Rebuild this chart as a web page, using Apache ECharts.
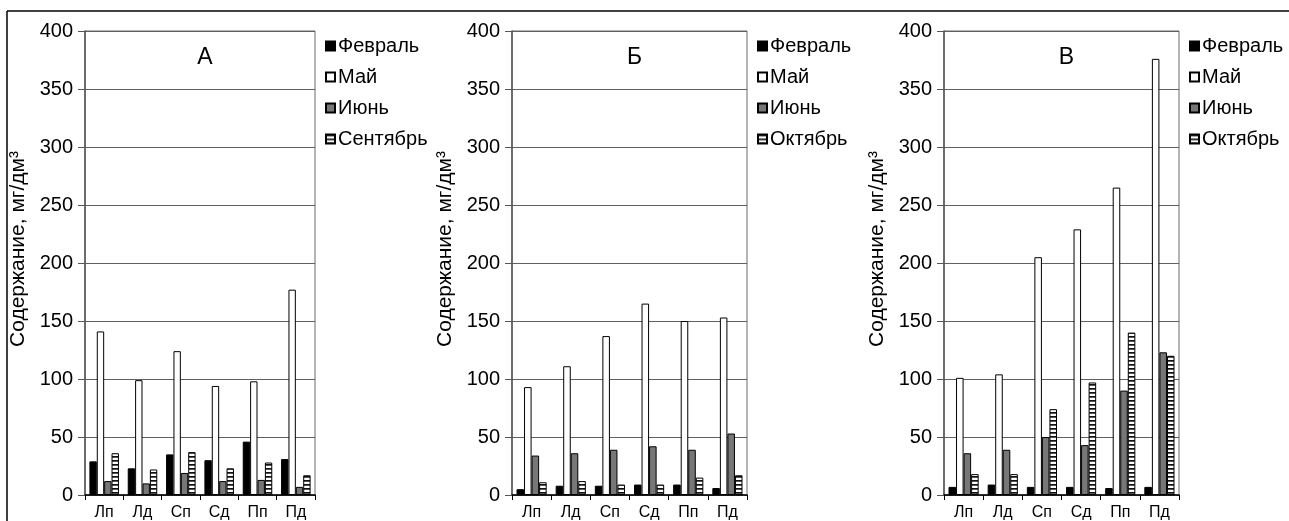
<!DOCTYPE html>
<html>
<head>
<meta charset="utf-8">
<script src="https://cdn.jsdelivr.net/npm/echarts@6/dist/echarts.min.js"></script>
<style>
html,body{margin:0;padding:0;background:#fff;}
#chart{width:1289px;height:521px;}
</style>
</head>
<body>
<div id="chart"></div>
<script>
// ---- data ----
var categories = ['Лп', 'Лд', 'Сп', 'Сд', 'Пп', 'Пд'];
var yTicks = [0, 50, 100, 150, 200, 250, 300, 350, 400];
var panelTitles = ['А', 'Б', 'В'];
var legendA = ['Февраль', 'Май', 'Июнь', 'Сентябрь'];
var legendBC = ['Февраль', 'Май', 'Июнь', 'Октябрь'];
var yAxisName = 'Содержание, мг/дм³';

var febA = [29, 23, 35, 30, 46, 31];
var mayA = [141, 99, 124, 94, 98, 177];
var junA = [12, 10, 19, 12, 13, 7];
var sepA = [36, 22, 37, 23, 28, 17];

var febB = [5, 8, 8, 9, 9, 6];
var mayB = [93, 111, 137, 165, 150, 153];
var junB = [34, 36, 39, 42, 39, 53];
var octB = [11, 12, 9, 9, 15, 17];

var febC = [7, 9, 7, 7, 6, 7];
var mayC = [101, 104, 205, 229, 265, 376];
var junC = [36, 39, 50, 43, 90, 123];
var octC = [18, 18, 74, 97, 140, 120];

// ---- styles ----
var FONT = 'Liberation Sans, Arial, sans-serif';
function stripePattern() {
  var c = document.createElement('canvas');
  c.width = 4; c.height = 4;
  var g = c.getContext('2d');
  g.fillStyle = '#ffffff'; g.fillRect(0, 0, 4, 4);
  g.fillStyle = '#111111'; g.fillRect(0, 0, 4, 1);
  g.fillStyle = '#555555'; g.fillRect(0, 1, 4, 1);
  return c;
}
var stripe = {image: stripePattern(), repeat: 'repeat'};
var fills = ['#000000', '#ffffff', '#777777', stripe];

var grids = [
  {left: 85, top: 31, width: 230, height: 467},
  {left: 512, top: 31, width: 235, height: 467},
  {left: 944, top: 31, width: 235, height: 467}
];
var legendLefts = [320, 752, 1184];
var seriesData = [
  [febA, mayA, junA, sepA],
  [febB, mayB, junB, octB],
  [febC, mayC, junC, octC]
];
var legendNames = [legendA, legendBC, legendBC];

var option = {
  animation: false,
  backgroundColor: '#ffffff',
  textStyle: {fontFamily: FONT},
  grid: grids.map(function (g) {
    return {left: g.left, top: g.top, width: g.width, height: g.height,
      show: true, borderColor: '#6a6a6a', borderWidth: 1, backgroundColor: 'transparent'};
  }),
  title: panelTitles.map(function (t, i) {
    return {text: t, left: grids[i].left + grids[i].width / 2, top: 41, textAlign: 'center',
      textStyle: {fontFamily: FONT, fontSize: 23, fontWeight: 'normal', color: '#000'}};
  }),
  legend: legendNames.map(function (names, i) {
    return {data: names, orient: 'vertical', left: legendLefts[i], top: 31,
      itemWidth: 9, itemHeight: 9, itemGap: 11, icon: 'rect', selectedMode: false,
      textStyle: {fontFamily: FONT, fontSize: 20, color: '#000', lineHeight: 20, padding: [0, 0, 0, -2]}};
  }),
  xAxis: grids.map(function (g, i) {
    return {type: 'category', gridIndex: i, data: categories, boundaryGap: true,
      axisLine: {lineStyle: {color: '#000', width: 1.5}},
      axisTick: {show: true, length: 5, lineStyle: {color: '#000'}},
      axisLabel: {fontFamily: FONT, fontSize: 16, color: '#000', margin: 10},
      splitLine: {show: false}};
  }),
  yAxis: grids.map(function (g, i) {
    return {type: 'value', gridIndex: i, min: yTicks[0], max: yTicks[yTicks.length - 1], interval: yTicks[1] - yTicks[0],
      name: yAxisName, nameLocation: 'middle', nameGap: 56, nameRotate: 90,
      nameTextStyle: {fontFamily: FONT, fontSize: 21, color: '#000', padding: [0, 0, 0, 28]},
      axisLine: {show: true, lineStyle: {color: '#555', width: 1.5}},
      axisTick: {show: true, length: 7, lineStyle: {color: '#555'}},
      axisLabel: {fontFamily: FONT, fontSize: 20, color: '#000', margin: 12},
      splitLine: {show: true, lineStyle: {color: '#606060', width: 1}}};
  }),
  series: []
};

seriesData.forEach(function (group, gi) {
  group.forEach(function (vals, si) {
    option.series.push({
      type: 'bar', name: legendNames[gi][si], xAxisIndex: gi, yAxisIndex: gi,
      data: vals, barGap: '0%', barCategoryGap: '23%',
      itemStyle: {color: fills[si], borderColor: '#000', borderWidth: 1}
    });
  });
});

option.graphic = [
  {type: 'line', shape: {x1: 7, y1: 11, x2: 1289, y2: 11}, style: {stroke: '#000', lineWidth: 1.5}, silent: true},
  {type: 'line', shape: {x1: 7, y1: 11, x2: 7, y2: 521}, style: {stroke: '#000', lineWidth: 1.5}, silent: true}
];

var chart = echarts.init(document.getElementById('chart'), null, {renderer: 'canvas'});
chart.setOption(option);
</script>
</body>
</html>
